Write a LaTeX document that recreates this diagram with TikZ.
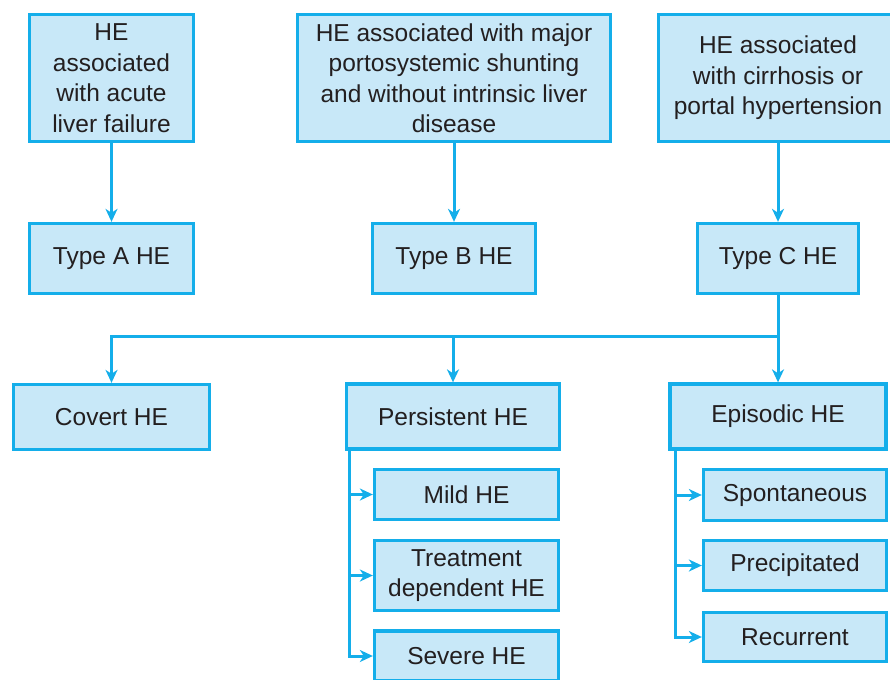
\documentclass[tikz,border=0pt]{standalone}
\usepackage{fontspec}
\setmainfont{Liberation Sans}
\usetikzlibrary{arrows.meta,calc}
\definecolor{boxfill}{HTML}{C8E8F8}
\definecolor{boxline}{HTML}{14AEEA}
\definecolor{txt}{HTML}{231F20}
\begin{document}
\begin{tikzpicture}[x=1pt,y=-1pt,
  hebox/.style={draw=boxline, fill=boxfill, line width=3.3pt, inner sep=0pt, align=center, text=txt, font=\fontsize{24.5}{30.5}\selectfont},
  conn/.style={draw=boxline, line width=3pt},
  arr/.style={conn, -{Stealth[length=13pt,width=12pt,inset=4pt]}}]
\useasboundingbox (0,0) rectangle (890,679);
% top row
\node[hebox, minimum width=164pt, minimum height=127pt] (b1) at (111.5,78) {HE\\associated\\with acute\\liver failure};
\node[hebox, minimum width=313pt, minimum height=127pt] (b2) at (454,78) {HE associated with major\\portosystemic shunting\\and without intrinsic liver\\disease};
\node[hebox, minimum width=239pt, minimum height=127pt] (b3) at (778,78) {HE associated\\with cirrhosis or\\portal hypertension};
% types
\node[hebox, minimum width=164pt, minimum height=70pt] (ta) at (111.5,258.5) {Type A HE};
\node[hebox, minimum width=163pt, minimum height=70pt] (tb) at (454,258.5) {Type B HE};
\node[hebox, minimum width=161pt, minimum height=70pt] (tc) at (778,258.5) {Type C HE};
% second level
\node[hebox, minimum width=196pt, minimum height=65pt] (cov) at (111.5,417) {Covert HE};
\node[hebox, minimum width=213pt, minimum height=65pt] (pers) at (453,416.5) {Persistent HE};
\node[hebox, minimum width=216pt, minimum height=65pt] (epi) at (778,416.5) {Episodic HE};
% persistent children
\node[hebox, minimum width=184pt, minimum height=50pt] (mild) at (466.5,494.5) {Mild HE};
\node[hebox, minimum width=184pt, minimum height=70pt] (treat) at (466.5,575.5) {Treatment\\dependent HE};
\node[hebox, minimum width=184pt, minimum height=50pt] (sev) at (466.5,656) {Severe HE};
% episodic children
\node[hebox, minimum width=183pt, minimum height=51pt] (spon) at (795,495) {Spontaneous};
\node[hebox, minimum width=183pt, minimum height=50pt] (prec) at (795,565.5) {Precipitated};
\node[hebox, minimum width=183pt, minimum height=49pt] (rec) at (795,637) {Recurrent};
% connectors top
\draw[arr] (b1.south) -- (ta.north);
\draw[arr] (b2.south) -- (tb.north);
\draw[arr] (b3.south) -- (tc.north);
% bus
\coordinate (bus) at (778,336);
\draw[arr] (tc.south) -- (epi.north);
\draw[arr] (bus) -| (cov.north);
\draw[arr] (pers.north |- bus) -- (pers.north);
% persistent branch
\coordinate (ps) at ($(pers.south west)+(5,0)$);
\draw[arr] (ps) |- (sev.west);
\draw[arr] (ps |- mild.west) -- (mild.west);
\draw[arr] (ps |- treat.west) -- (treat.west);
% episodic branch
\coordinate (es) at ($(epi.south west)+(7,0)$);
\draw[arr] (es) |- (rec.west);
\draw[arr] (es |- spon.west) -- (spon.west);
\draw[arr] (es |- prec.west) -- (prec.west);
\end{tikzpicture}
\end{document}
